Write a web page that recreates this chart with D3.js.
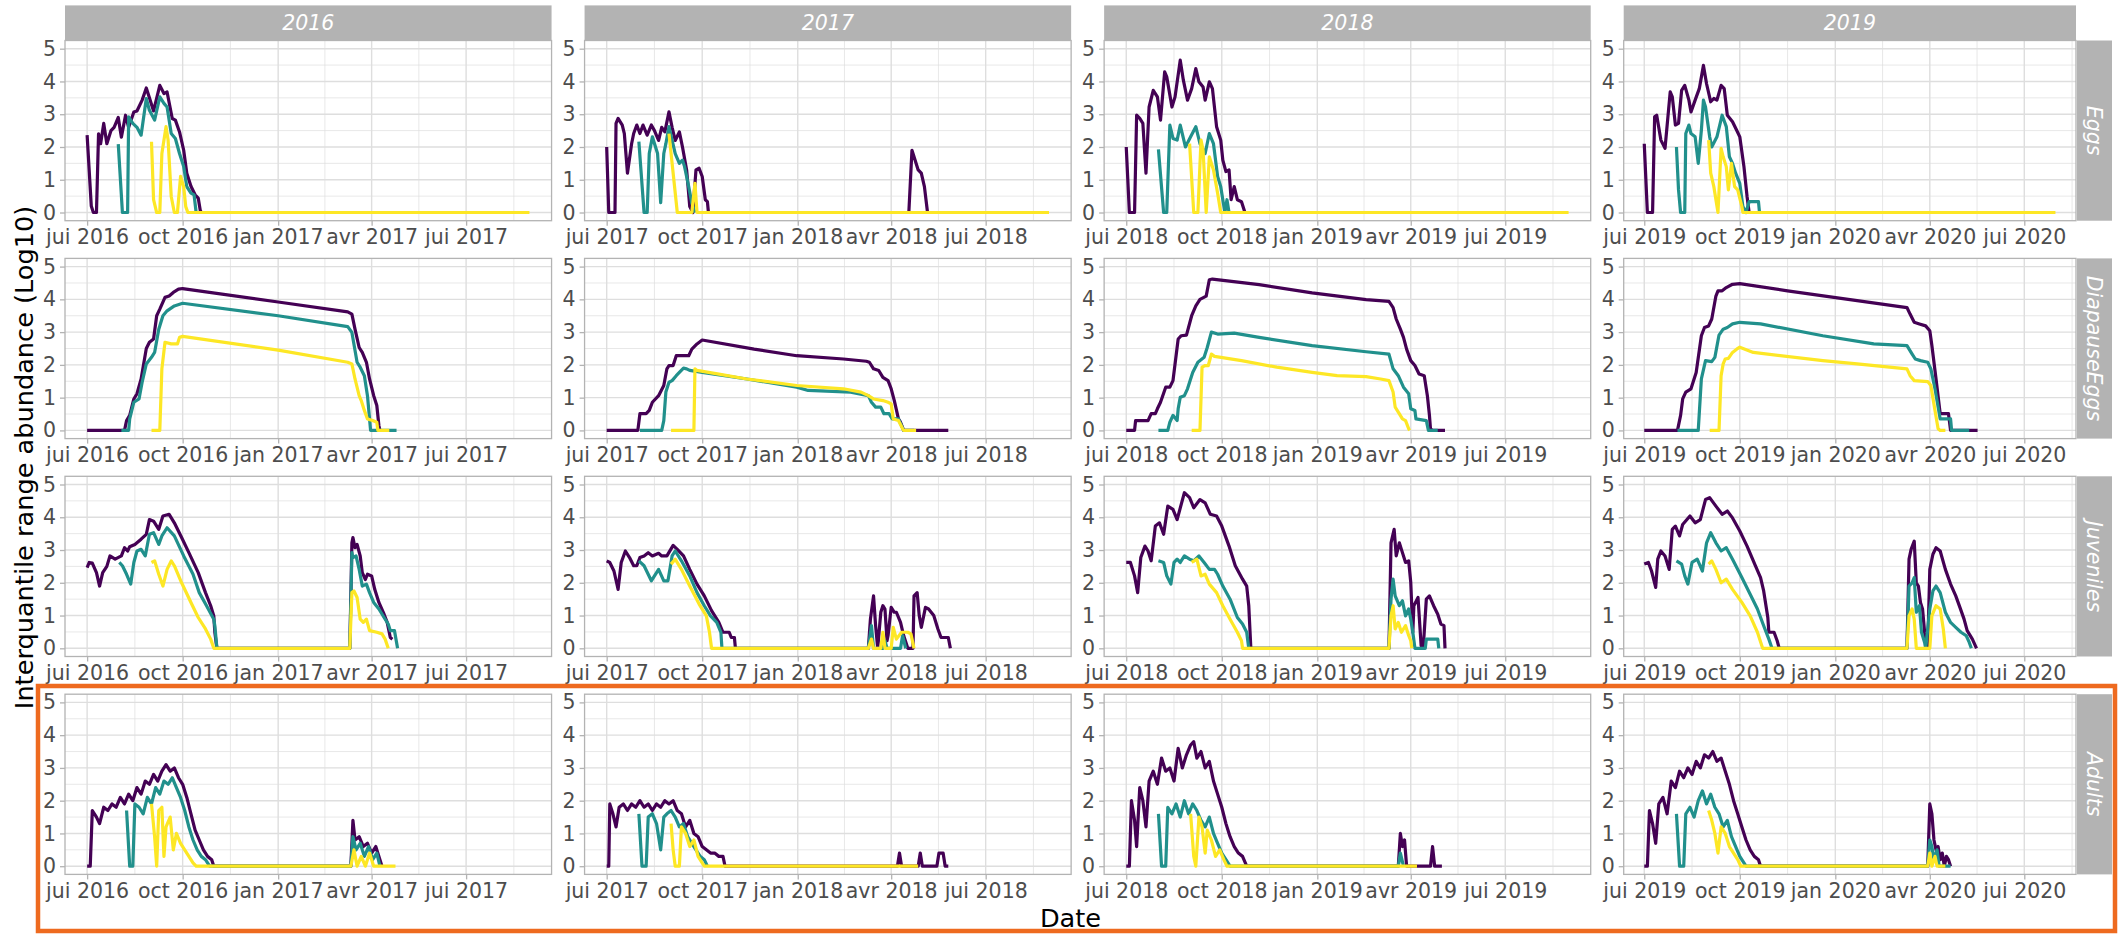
<!DOCTYPE html>
<html>
<head>
<meta charset="utf-8">
<script src="https://cdn.jsdelivr.net/npm/d3@7"></script>
<style>
  body { margin: 0; background: #fff; }
  svg { display: block; }
  text { font-family: "DejaVu Sans", sans-serif; }
</style>
</head>
<body>
<svg id="chart" width="2122" height="937"></svg>
<script>
// Interquartile range abundance per life stage and season (log10)
const years = [2016, 2017, 2018, 2019];
const stages = ["Eggs", "DiapauseEggs", "Juveniles", "Adults"];
const seriesColors = ["#440154", "#21908C", "#FDE725"];
const monthLabels = { 0: "jan", 3: "avr", 6: "jui", 9: "oct" };
const yTicks = [0, 1, 2, 3, 4, 5];
const yLimits = [0, 5];

// each point: [days since 1 July of the season year, value]
const Eggs_2016 = [
  [[0,2.36],[4,0.2],[6,0],[9,0],[11,2.4],[13,2.1],[16,2.72],[19,2.1],[23,2.5],[26,2.6],[30,2.9],[33,2.3],[37,2.97],[40,2.6],[45,3.07],[48,3.1],[53,3.43],[57,3.8],[60,3.5],[64,3.1],[70,3.88],[74,3.63],[77,3.68],[82,2.87],[85,2.82],[89,2.46],[93,1.9],[96,1.2],[100,0.8],[104,0.54],[107,0.44],[109,0.06],[110,0]],
  [[30,2.09],[34,0],[39,0],[40,2.92],[44,2.72],[48,2.6],[52,2.36],[57,3.48],[60,3.12],[65,2.82],[70,3.53],[74,3.33],[77,3.22],[81,2.41],[85,2.26],[89,1.8],[93,1.4],[96,0.79],[100,0.59],[103,0.54],[105,0]],
  [[62,2.16],[64,0.39],[67,0],[70,0],[72,1.8],[76,2.62],[78,2.21],[81,0.49],[84,0],[87,0],[90,1.1],[93,0.79],[95,0.18],[97,0],[426,0]]
];
const Eggs_2017 = [
  [[0,2.0],[2,0],[8,0],[9,2.72],[11,2.87],[15,2.67],[17,2.41],[20,1.2],[24,2.1],[26,2.41],[29,2.67],[32,2.41],[35,2.67],[39,2.36],[43,2.67],[46,2.5],[50,2.2],[53,2.6],[56,2.46],[60,3.07],[63,2.6],[66,2.2],[70,2.46],[73,2.0],[77,1.3],[80,0.18],[83,0],[86,1.3],[89,1.35],[92,1.1],[95,0.39],[97,0.33],[98,0],[291,0],[294,1.9],[296,1.7],[300,1.3],[303,1.2],[306,0.79],[309,0]],
  [[31,2.16],[36,0],[39,0],[41,1.8],[44,2.31],[49,1.8],[52,0.3],[55,1.8],[57,2.1],[60,2.62],[63,2.21],[66,1.8],[70,1.5],[73,1.6],[75,1.4],[79,0.79],[82,0.28],[85,0]],
  [[60,2.41],[68,0],[82,0],[85,0.89],[87,0],[426,0]]
];
const Eggs_2018 = [
  [[0,2.0],[3,0],[8,0],[10,2.97],[13,2.87],[16,2.72],[19,1.2],[22,3.22],[26,3.73],[30,3.53],[33,2.82],[37,4.29],[39,4.14],[44,3.22],[47,3.53],[52,4.65],[55,4.04],[59,3.43],[63,3.78],[67,4.39],[70,3.99],[74,3.83],[76,3.43],[80,3.99],[83,3.78],[87,2.62],[91,2.21],[93,1.6],[96,1.25],[99,1.3],[101,0.39],[104,0.79],[107,0.39],[111,0.33],[114,0.03]],
  [[31,1.93],[36,0],[39,0],[42,2.67],[45,2.26],[49,2.21],[52,2.67],[57,2.0],[62,2.31],[67,2.62],[71,2.1],[76,1.8],[80,2.41],[84,2.1],[88,1.1],[91,0.79],[93,0.39],[95,0],[97,0.39],[99,0]],
  [[61,2.1],[65,0],[69,0],[72,2.21],[74,1.9],[77,0],[80,1.7],[84,1.3],[88,0.59],[91,0],[426,0]]
];
const Eggs_2019 = [
  [[0,2.1],[3,0],[8,0],[10,2.92],[12,2.97],[16,2.21],[20,1.96],[25,3.68],[27,3.53],[30,2.67],[33,2.72],[36,3.73],[39,3.88],[43,3.43],[45,3.07],[49,3.43],[53,3.78],[57,4.49],[60,3.93],[64,3.38],[67,3.48],[70,3.43],[74,3.88],[77,3.78],[80,2.97],[85,2.77],[89,2.51],[92,2.31],[96,1.4],[99,0.49],[101,0]],
  [[31,2.0],[33,0.69],[35,0],[39,0],[40,2.41],[43,2.67],[45,2.41],[49,2.31],[52,1.5],[55,2.51],[57,3.43],[59,3.22],[63,2.31],[65,2.0],[70,2.31],[75,2.97],[79,2.62],[82,1.7],[85,1.5],[88,1.2],[92,0.89],[95,0.18],[98,0],[101,0.33],[110,0.33],[111,0]],
  [[62,2.21],[64,1.2],[67,0.79],[71,0],[74,1.96],[76,1.7],[79,1.4],[81,0.69],[84,1.5],[87,0.79],[90,0.69],[94,0.18],[95,0],[396,0]]
];

const DiapauseEggs_2016 = [
  [[0,0],[36,0],[38,0.3],[41,0.46],[45,0.96],[48,1.12],[52,1.57],[57,2.5],[60,2.69],[64,2.79],[67,3.5],[70,3.7],[75,4.06],[79,4.1],[83,4.21],[88,4.31],[92,4.33],[184,3.92],[251,3.62],[255,3.55],[258,3.09],[262,2.53],[265,2.38],[269,2.08],[272,1.57],[276,1.06],[279,0.76],[281,0.15],[282,0]],
  [[33,0],[40,0],[41,0.35],[45,0.86],[50,0.96],[53,1.47],[57,2.03],[62,2.23],[65,2.38],[69,3.09],[73,3.5],[77,3.65],[84,3.8],[92,3.88],[184,3.5],[251,3.17],[255,2.99],[260,2.08],[263,1.93],[267,1.67],[270,1.06],[273,0],[298,0]],
  [[62,0],[70,0],[72,1.88],[75,2.69],[81,2.64],[87,2.64],[89,2.84],[92,2.87],[184,2.45],[251,2.08],[255,2.03],[258,1.57],[262,1.06],[264,0.91],[267,0.61],[270,0.35],[275,0.3],[279,0.25],[280,0],[291,0]]
];
const DiapauseEggs_2017 = [
  [[0,0],[30,0],[32,0.51],[38,0.51],[41,0.61],[44,0.86],[50,1.06],[55,1.37],[58,1.88],[60,1.98],[64,1.98],[67,2.28],[79,2.28],[82,2.48],[87,2.64],[92,2.76],[142,2.48],[183,2.28],[228,2.18],[250,2.11],[253,2.08],[257,1.88],[262,1.83],[266,1.62],[271,1.52],[274,1.27],[277,0.91],[281,0.35],[283,0.25],[286,0],[329,0]],
  [[32,0],[53,0],[55,0.3],[57,1.17],[60,1.47],[63,1.52],[67,1.67],[70,1.77],[74,1.9],[77,1.88],[80,1.83],[92,1.77],[135,1.57],[183,1.32],[194,1.22],[235,1.17],[252,1.06],[255,0.86],[259,0.71],[264,0.71],[267,0.51],[272,0.51],[275,0.35],[281,0.35],[286,0],[296,0]],
  [[62,0],[84,0],[85,1.88],[87,1.83],[108,1.72],[135,1.57],[183,1.37],[228,1.27],[245,1.17],[252,1.06],[257,0.96],[266,0.91],[271,0.86],[274,0.81],[276,0.35],[281,0.3],[285,0.05],[286,0],[298,0]]
];
const DiapauseEggs_2018 = [
  [[0,0],[8,0],[9,0.3],[21,0.3],[24,0.51],[28,0.51],[30,0.66],[33,0.86],[38,1.32],[42,1.32],[45,1.52],[50,2.79],[53,2.89],[58,2.91],[63,3.5],[67,3.8],[71,4.0],[77,4.1],[80,4.6],[83,4.62],[128,4.45],[179,4.2],[231,3.99],[253,3.94],[257,3.75],[260,3.4],[264,3.09],[267,2.84],[270,2.48],[274,2.13],[278,1.98],[282,1.72],[287,1.67],[290,1.06],[292,0.46],[293,0.05],[295,0],[307,0]],
  [[31,0],[40,0],[42,0.25],[45,0.46],[49,0.3],[50,0.66],[52,1.01],[56,1.06],[59,1.27],[64,1.77],[69,2.08],[75,2.23],[78,2.53],[82,3.0],[88,2.94],[104,2.97],[128,2.84],[179,2.59],[231,2.4],[253,2.33],[257,1.88],[262,1.67],[267,1.32],[272,1.12],[274,0.66],[278,0.61],[279,0.35],[289,0.3],[291,0],[300,0]],
  [[63,0],[71,0],[73,1.93],[76,1.98],[79,1.98],[82,2.33],[85,2.26],[111,2.13],[145,1.93],[179,1.77],[203,1.67],[231,1.64],[245,1.57],[253,1.52],[257,1.17],[259,0.71],[262,0.56],[266,0.35],[269,0.3],[272,0.05],[273,0]]
];
const DiapauseEggs_2019 = [
  [[0,0],[32,0],[35,0.46],[37,0.96],[40,1.17],[45,1.27],[47,1.47],[50,1.77],[55,2.89],[58,3.14],[62,3.19],[65,3.4],[69,4.1],[71,4.26],[75,4.26],[79,4.36],[85,4.46],[92,4.48],[138,4.26],[205,3.96],[253,3.75],[256,3.55],[260,3.3],[265,3.25],[271,3.19],[275,3.04],[277,2.59],[281,1.57],[285,0.51],[293,0.51],[295,0],[321,0]],
  [[32,0],[52,0],[55,1.57],[59,2.13],[65,2.1],[68,2.23],[72,2.91],[76,3.09],[80,3.14],[85,3.25],[92,3.3],[112,3.25],[172,2.89],[221,2.64],[253,2.59],[258,2.33],[261,2.18],[266,2.13],[273,2.08],[276,1.88],[280,1.27],[285,0.35],[295,0.35],[296,0],[313,0]],
  [[63,0],[72,0],[74,1.67],[76,2.03],[78,2.18],[81,2.2],[85,2.38],[89,2.48],[92,2.54],[105,2.38],[172,2.13],[205,2.03],[253,1.88],[256,1.67],[260,1.52],[273,1.49],[276,1.37],[280,0.61],[283,0.05],[285,0],[290,0]]
];

const Juveniles_2016 = [
  [[0,2.46],[2,2.62],[5,2.6],[9,2.31],[12,1.9],[15,2.31],[19,2.5],[22,2.82],[27,2.72],[33,2.82],[36,3.07],[39,2.97],[41,3.1],[46,3.17],[52,3.33],[57,3.48],[60,3.93],[64,3.88],[69,3.63],[73,4.04],[79,4.09],[84,3.83],[91,3.38],[98,2.92],[107,2.31],[114,1.7],[119,1.3],[122,0.99],[123,0.49],[125,0],[253,0],[255,3.22],[256,3.38],[258,3.07],[260,3.17],[263,2.82],[265,2.31],[268,2.1],[270,2.26],[274,2.21],[277,1.8],[281,1.4],[286,1.04],[289,0.79],[292,0.33],[294,0.28]],
  [[31,2.62],[34,2.52],[38,2.26],[42,1.96],[45,2.62],[48,2.97],[52,3.02],[56,2.82],[60,3.48],[64,3.53],[69,3.17],[72,3.43],[77,3.68],[84,3.43],[93,2.82],[102,2.26],[108,1.7],[115,1.3],[122,0.89],[123,0.69],[125,0],[253,0],[255,2.92],[256,2.77],[259,2.82],[262,2.41],[265,1.9],[269,1.96],[272,1.7],[276,1.4],[281,1.2],[286,0.94],[290,0.74],[292,0.54],[296,0.54],[299,0]],
  [[62,2.62],[65,2.67],[69,2.26],[73,1.9],[77,2.41],[81,2.67],[84,2.52],[91,2.0],[100,1.4],[107,0.94],[114,0.59],[119,0.28],[122,0],[253,0],[255,1.7],[257,1.75],[260,1.55],[263,0.89],[266,0.79],[269,0.89],[272,0.54],[279,0.49],[284,0.44],[287,0.28],[290,0]]
];
const Juveniles_2017 = [
  [[0,2.67],[3,2.62],[7,2.36],[11,1.8],[14,2.62],[18,2.97],[22,2.77],[26,2.52],[29,2.52],[32,2.77],[36,2.82],[40,2.92],[44,2.82],[50,2.9],[53,2.82],[58,2.82],[64,3.14],[68,3.02],[74,2.82],[80,2.41],[87,1.96],[94,1.6],[101,1.15],[108,0.79],[112,0.49],[118,0.49],[120,0.33],[123,0.33],[124,0],[252,0],[254,0.89],[257,1.6],[259,0.69],[261,0],[264,1.1],[266,1.3],[268,1.2],[270,0.23],[271,0.39],[274,1.25],[277,1.1],[279,1.1],[283,0.79],[286,0.39],[290,0],[295,0],[296,1.6],[299,1.7],[301,1.0],[303,0.64],[307,1.25],[310,1.2],[315,1.0],[319,0.59],[322,0.33],[329,0.33],[331,0]],
  [[31,2.67],[36,2.52],[43,2.06],[50,2.41],[55,2.06],[59,2.06],[63,2.82],[66,2.97],[72,2.67],[80,2.21],[87,1.7],[94,1.3],[100,0.99],[106,0.79],[110,0.49],[111,0],[252,0],[255,0.69],[257,0],[266,0],[268,0.23],[270,0],[283,0],[285,0.39],[288,0]],
  [[62,2.57],[66,2.72],[72,2.41],[80,1.9],[89,1.35],[96,0.99],[99,0.49],[101,0],[252,0],[255,0.28],[257,0],[264,0],[266,0.49],[268,0],[274,0],[276,0.64],[279,0.28],[284,0.49],[290,0.49],[293,0.44],[296,0]]
];
const Juveniles_2018 = [
  [[0,2.62],[4,2.62],[8,2.21],[11,1.7],[14,2.77],[18,3.12],[21,2.97],[24,2.67],[28,3.73],[32,3.83],[36,3.48],[40,4.34],[45,4.24],[49,3.93],[56,4.75],[61,4.6],[65,4.29],[71,4.54],[76,4.44],[81,4.09],[87,4.04],[92,3.73],[99,3.12],[105,2.52],[112,2.11],[116,1.9],[118,1.3],[120,0],[253,0],[255,3.22],[258,3.63],[260,2.82],[263,3.22],[265,3.02],[269,2.62],[272,2.67],[274,2.01],[276,0.49],[277,1.3],[281,1.55],[284,0.08],[286,0],[289,1.5],[292,1.6],[296,1.3],[300,1.04],[303,0.74],[306,0.69],[307,0]],
  [[31,2.67],[36,2.62],[39,2.21],[43,1.96],[46,2.62],[49,2.72],[52,2.62],[56,2.82],[61,2.72],[65,2.67],[70,2.82],[75,2.62],[80,2.41],[85,2.41],[88,2.26],[93,1.9],[100,1.5],[107,0.94],[112,0.74],[116,0.49],[118,0],[253,0],[255,1.5],[257,2.11],[259,1.6],[263,1.3],[266,1.45],[269,0.99],[272,1.2],[274,0.89],[276,0.49],[278,0],[288,0],[289,0.28],[300,0.28],[301,0]],
  [[63,2.62],[68,2.72],[72,2.21],[76,2.26],[80,1.96],[87,1.7],[93,1.3],[100,0.89],[107,0.49],[111,0.23],[112,0],[253,0],[255,0.99],[257,1.3],[259,0.59],[262,0.79],[265,0.49],[269,0.69],[272,0.39],[274,0.23],[275,0]]
];
const Juveniles_2019 = [
  [[0,2.57],[4,2.62],[7,2.36],[11,1.86],[13,2.72],[16,2.97],[20,2.82],[24,2.41],[27,3.63],[30,3.73],[34,3.43],[37,3.78],[44,4.04],[49,3.83],[54,3.93],[59,4.54],[63,4.6],[69,4.34],[75,4.09],[80,4.19],[85,3.98],[92,3.58],[99,3.12],[107,2.52],[112,2.16],[115,1.75],[119,0.94],[120,0.49],[125,0.49],[128,0.23],[130,0],[253,0],[255,2.72],[257,3.02],[260,3.27],[262,2.0],[264,1.9],[266,1.4],[268,1.2],[270,0.49],[271,0.23],[273,0],[275,2.41],[278,2.87],[281,3.07],[285,2.97],[290,2.41],[295,1.96],[300,1.6],[304,1.25],[308,0.89],[311,0.54],[316,0.28],[320,0]],
  [[31,2.67],[36,2.57],[39,2.21],[42,1.96],[46,2.62],[51,2.72],[56,2.36],[60,3.22],[64,3.53],[69,3.22],[74,2.97],[79,3.07],[85,2.72],[94,2.16],[102,1.65],[109,1.2],[115,0.69],[120,0.28],[123,0],[253,0],[255,1.9],[258,2.0],[260,2.16],[262,1.1],[265,1.3],[267,0.49],[270,0.18],[271,0],[275,1.2],[278,1.75],[281,1.9],[285,1.7],[290,1.1],[295,0.79],[300,0.64],[305,0.49],[310,0.39],[313,0.18],[315,0]],
  [[62,2.57],[65,2.67],[69,2.41],[74,2.0],[79,2.11],[85,1.8],[94,1.4],[102,0.99],[109,0.49],[114,0],[253,0],[255,0.99],[258,1.2],[260,0.89],[262,0],[275,0],[277,0.99],[281,1.3],[285,1.2],[288,0.59],[290,0]]
];

const Adults_2016 = [
  [[0,0],[3,0],[5,1.7],[9,1.5],[12,1.3],[16,1.8],[20,1.7],[24,1.9],[28,1.8],[32,2.1],[36,1.9],[40,2.2],[44,2.0],[48,2.4],[52,2.2],[56,2.6],[60,2.5],[64,2.8],[68,2.6],[72,2.9],[76,3.1],[80,2.9],[84,3.0],[88,2.7],[92,2.5],[96,2.1],[100,1.6],[104,1.1],[108,0.8],[112,0.5],[116,0.3],[120,0.2],[122,0],[254,0],[256,1.4],[258,0.8],[262,0.9],[266,0.6],[270,0.7],[274,0.4],[278,0.6],[282,0.2],[284,0]],
  [[38,1.7],[41,0],[44,0],[46,1.9],[50,1.8],[54,1.6],[58,2.1],[62,1.9],[66,2.4],[70,2.2],[74,2.6],[78,2.5],[82,2.7],[86,2.4],[90,2.1],[94,1.7],[98,1.2],[102,0.8],[106,0.5],[110,0.3],[114,0.2],[118,0],[254,0],[256,0.9],[259,0.5],[263,0.7],[267,0.3],[271,0.6],[275,0.2],[279,0.4],[282,0]],
  [[62,1.9],[65,0.9],[67,0],[69,1.7],[72,1.8],[74,0.3],[76,1.2],[80,1.5],[83,0.5],[86,1.0],[90,0.7],[94,0.5],[98,0.3],[102,0.1],[105,0],[254,0],[257,0.5],[260,0],[264,0.3],[268,0],[272,0.4],[276,0],[297,0]]
];
const Adults_2017 = [
  [[0,0],[2,0],[3,1.9],[6,1.6],[9,1.2],[12,1.8],[16,1.9],[20,1.7],[24,1.9],[28,1.8],[32,2.0],[36,1.8],[40,1.9],[44,1.7],[48,1.9],[52,1.8],[56,2.0],[60,1.9],[64,2.0],[68,1.7],[72,1.6],[76,1.2],[80,1.4],[84,1.0],[88,0.9],[92,0.6],[96,0.5],[100,0.4],[104,0.4],[108,0.3],[112,0.3],[114,0],[280,0],[282,0.4],[284,0],[300,0],[302,0.4],[304,0],[318,0],[320,0.4],[324,0.4],[326,0],[329,0]],
  [[31,1.6],[34,0],[38,0],[40,1.5],[44,1.6],[48,1.3],[52,0.5],[55,1.5],[58,1.6],[62,1.7],[66,1.5],[70,1.2],[74,1.3],[78,0.9],[82,0.7],[86,0.5],[90,0.3],[94,0.2],[97,0]],
  [[62,1.3],[64,0.5],[66,0],[70,0],[72,1.2],[76,1.0],[80,0.6],[84,0.8],[88,0.3],[92,0.1],[94,0],[300,0]]
];
const Adults_2018 = [
  [[0,0],[3,0],[5,2.0],[8,1.4],[10,0.6],[13,2.4],[16,2.0],[19,1.2],[22,2.6],[26,2.9],[30,2.5],[34,3.3],[38,2.9],[42,3.0],[46,2.6],[50,3.6],[54,3.0],[58,3.4],[62,3.7],[65,3.8],[68,3.3],[72,3.5],[76,3.0],[80,3.2],[84,2.6],[88,2.2],[92,1.8],[96,1.3],[100,0.9],[104,0.6],[108,0.4],[112,0.3],[116,0],[262,0],[264,1.0],[266,0.6],[268,0.8],[270,0],[293,0],[295,0.6],[297,0],[304,0]],
  [[31,1.6],[34,0],[38,0],[40,1.8],[44,1.6],[48,1.9],[52,1.5],[56,2.0],[60,1.6],[64,1.9],[68,1.7],[72,1.4],[76,1.2],[80,1.5],[84,1.0],[88,0.7],[92,0.4],[96,0.2],[100,0],[262,0],[264,0.4],[267,0]],
  [[62,1.6],[65,0.3],[67,0],[70,1.5],[73,1.2],[76,0.4],[78,1.1],[82,0.8],[86,0.3],[90,0.5],[94,0.2],[97,0],[280,0]]
];
const Adults_2019 = [
  [[0,0],[3,0],[5,1.7],[8,1.3],[11,0.7],[14,1.9],[18,2.1],[22,1.6],[26,2.6],[30,2.4],[34,2.9],[38,2.7],[42,3.0],[46,2.8],[50,3.2],[54,3.0],[58,3.4],[62,3.3],[66,3.5],[70,3.2],[74,3.3],[78,2.9],[82,2.5],[86,2.0],[90,1.6],[94,1.2],[98,0.8],[102,0.5],[106,0.3],[110,0.2],[112,0],[273,0],[275,1.9],[277,1.6],[279,0.8],[281,0.5],[283,0.6],[285,0.2],[287,0.4],[289,0],[291,0.3],[293,0.2],[295,0]],
  [[31,1.6],[34,0],[38,0],[40,1.6],[44,1.8],[48,1.5],[52,2.0],[56,2.3],[60,1.9],[64,2.2],[68,1.8],[72,1.6],[76,1.2],[80,1.4],[84,0.9],[88,0.6],[92,0.3],[96,0.1],[98,0],[273,0],[275,0.8],[277,0.6],[279,0.2],[282,0.5],[284,0],[295,0]],
  [[62,1.7],[65,1.4],[68,1.0],[71,0.4],[74,1.2],[78,1.0],[82,0.6],[86,0.4],[90,0.2],[93,0],[273,0],[275,0.4],[277,0],[280,0.3],[282,0],[290,0]]
];

const dataByStage = {
  Eggs: [Eggs_2016, Eggs_2017, Eggs_2018, Eggs_2019],
  DiapauseEggs: [DiapauseEggs_2016, DiapauseEggs_2017, DiapauseEggs_2018, DiapauseEggs_2019],
  Juveniles: [Juveniles_2016, Juveniles_2017, Juveniles_2018, Juveniles_2019],
  Adults: [Adults_2016, Adults_2017, Adults_2018, Adults_2019]
};

// layout
const W = 2122, H = 937;
const plotLeft = 65, plotRight = 2076, colGap = 33;
const panelTop = 40.5, panelH = 180.2, rowStep = 217.9;
const stripTop = 5.4, stripW = 35;
const axisFont = 20.5, titleFont = 25.6;
const gridCol = "#DEDEDE", borderCol = "#B3B3B3", textCol = "#4D4D4D";

const DAY = 864e5;
const toDate = (year, d) => new Date(Date.UTC(year, 6, 1) + d * DAY);

// free x per column, panel width proportional to its range
const colRanges = years.map((yr, ci) => {
  const days = stages.flatMap(s => dataByStage[s][ci].flat().map(p => p[0]));
  const [a, b] = d3.extent(days);
  const pad = (b - a) * 0.05;
  return [a - pad, b + pad];
});
const totalSpan = d3.sum(colRanges, r => r[1] - r[0]);
const pxPerDay = (plotRight - plotLeft - colGap * (years.length - 1)) / totalSpan;
let cursor = plotLeft;
const cols = colRanges.map((r, ci) => {
  const w = (r[1] - r[0]) * pxPerDay;
  const c = {
    x0: cursor, w,
    x: d3.scaleUtc().domain([toDate(years[ci], r[0]), toDate(years[ci], r[1])]).range([cursor, cursor + w])
  };
  cursor += w + colGap;
  return c;
});

const ySpan = yLimits[1] - yLimits[0];
const yDomain = [yLimits[0] - ySpan * 0.05, yLimits[1] + ySpan * 0.05];

const svg = d3.select("#chart");
svg.append("rect").attr("width", W).attr("height", H).attr("fill", "#fff");

stages.forEach((stage, ri) => {
  const top = panelTop + ri * rowStep;
  const bottom = top + panelH;
  const y = d3.scaleLinear().domain(yDomain).range([bottom, top]);

  years.forEach((yr, ci) => {
    const { x0, w, x } = cols[ci];
    const g = svg.append("g");
    const [d0, d1] = x.domain();

    g.append("rect").attr("x", x0).attr("y", top).attr("width", w).attr("height", panelH).attr("fill", "#fff");

    const majors = x.ticks(d3.utcMonth.every(3));
    const ext = [d3.utcMonth.offset(majors[0], -3), ...majors, d3.utcMonth.offset(majors[majors.length - 1], 3)];
    const minorsX = d3.pairs(ext).map(([a, b]) => new Date((+a + +b) / 2)).filter(d => d >= d0 && d <= d1);
    const minorsY = d3.range(yLimits[0] - 0.5, yLimits[1] + 1, 1).filter(v => v > yDomain[0] && v < yDomain[1]);

    // minor grid
    g.selectAll(null).data(minorsX).join("line")
      .attr("x1", d => x(d)).attr("x2", d => x(d)).attr("y1", top).attr("y2", bottom)
      .attr("stroke", gridCol).attr("stroke-width", 0.7);
    g.selectAll(null).data(minorsY).join("line")
      .attr("x1", x0).attr("x2", x0 + w).attr("y1", d => y(d)).attr("y2", d => y(d))
      .attr("stroke", gridCol).attr("stroke-width", 0.7);
    // major grid
    g.selectAll(null).data(majors).join("line")
      .attr("x1", d => x(d)).attr("x2", d => x(d)).attr("y1", top).attr("y2", bottom)
      .attr("stroke", gridCol).attr("stroke-width", 1.4);
    g.selectAll(null).data(yTicks).join("line")
      .attr("x1", x0).attr("x2", x0 + w).attr("y1", d => y(d)).attr("y2", d => y(d))
      .attr("stroke", gridCol).attr("stroke-width", 1.4);

    // series
    const line = d3.line().x(p => x(toDate(yr, p[0]))).y(p => y(p[1]));
    dataByStage[stage][ci].forEach((pts, si) => {
      g.append("path").attr("d", line(pts))
        .attr("fill", "none").attr("stroke", seriesColors[si])
        .attr("stroke-width", 3.2).attr("stroke-linejoin", "round");
    });

    g.append("rect").attr("x", x0).attr("y", top).attr("width", w).attr("height", panelH)
      .attr("fill", "none").attr("stroke", borderCol).attr("stroke-width", 1.3);

    // axes
    const ax = g.append("g").attr("transform", `translate(0,${bottom})`)
      .call(d3.axisBottom(x).tickValues(majors).tickSize(5).tickPadding(4)
        .tickFormat(d => monthLabels[d.getUTCMonth()] + " " + d.getUTCFullYear()));
    const ay = g.append("g").attr("transform", `translate(${x0},0)`)
      .call(d3.axisLeft(y).tickValues(yTicks).tickSize(5).tickPadding(4).tickFormat(d3.format("d")));
    [ax, ay].forEach(a => {
      a.select(".domain").remove();
      a.selectAll(".tick line").attr("stroke", borderCol).attr("stroke-width", 1.3);
      a.selectAll(".tick text").attr("fill", textCol).attr("font-size", axisFont)
        .attr("font-family", "DejaVu Sans");
    });

    // top strips
    if (ri === 0) {
      svg.append("rect").attr("x", x0).attr("y", stripTop).attr("width", w).attr("height", panelTop - stripTop)
        .attr("fill", "#B3B3B3");
      svg.append("text").attr("x", x0 + w / 2).attr("y", (stripTop + panelTop) / 2)
        .attr("dy", "0.36em").attr("text-anchor", "middle").attr("fill", "#fff")
        .attr("font-size", axisFont).attr("font-style", "italic").text(yr);
    }
  });

  // right strips
  const sx = plotRight + 1;
  svg.append("rect").attr("x", sx).attr("y", top).attr("width", stripW).attr("height", panelH).attr("fill", "#B3B3B3");
  svg.append("text")
    .attr("transform", `translate(${sx + stripW / 2},${top + panelH / 2}) rotate(90)`)
    .attr("dy", "0.36em").attr("text-anchor", "middle").attr("fill", "#fff")
    .attr("font-size", axisFont).attr("font-style", "italic").text(stage);
});

// axis titles
svg.append("text").attr("x", (plotLeft + plotRight) / 2).attr("y", 927)
  .attr("text-anchor", "middle").attr("font-size", titleFont).attr("fill", "#000").text("Date");
svg.append("text")
  .attr("transform", `translate(24,${(panelTop + panelTop + 3 * rowStep + panelH) / 2}) rotate(-90)`)
  .attr("dy", "0.36em").attr("text-anchor", "middle").attr("font-size", titleFont).attr("fill", "#000")
  .text("Interquantile range abundance (Log10)");

// highlight box around the Adults row
svg.append("rect").attr("x", 38).attr("y", 686).attr("width", 2077).attr("height", 245)
  .attr("fill", "none").attr("stroke", "#EE6A1F").attr("stroke-width", 4.5);
</script>
</body>
</html>
